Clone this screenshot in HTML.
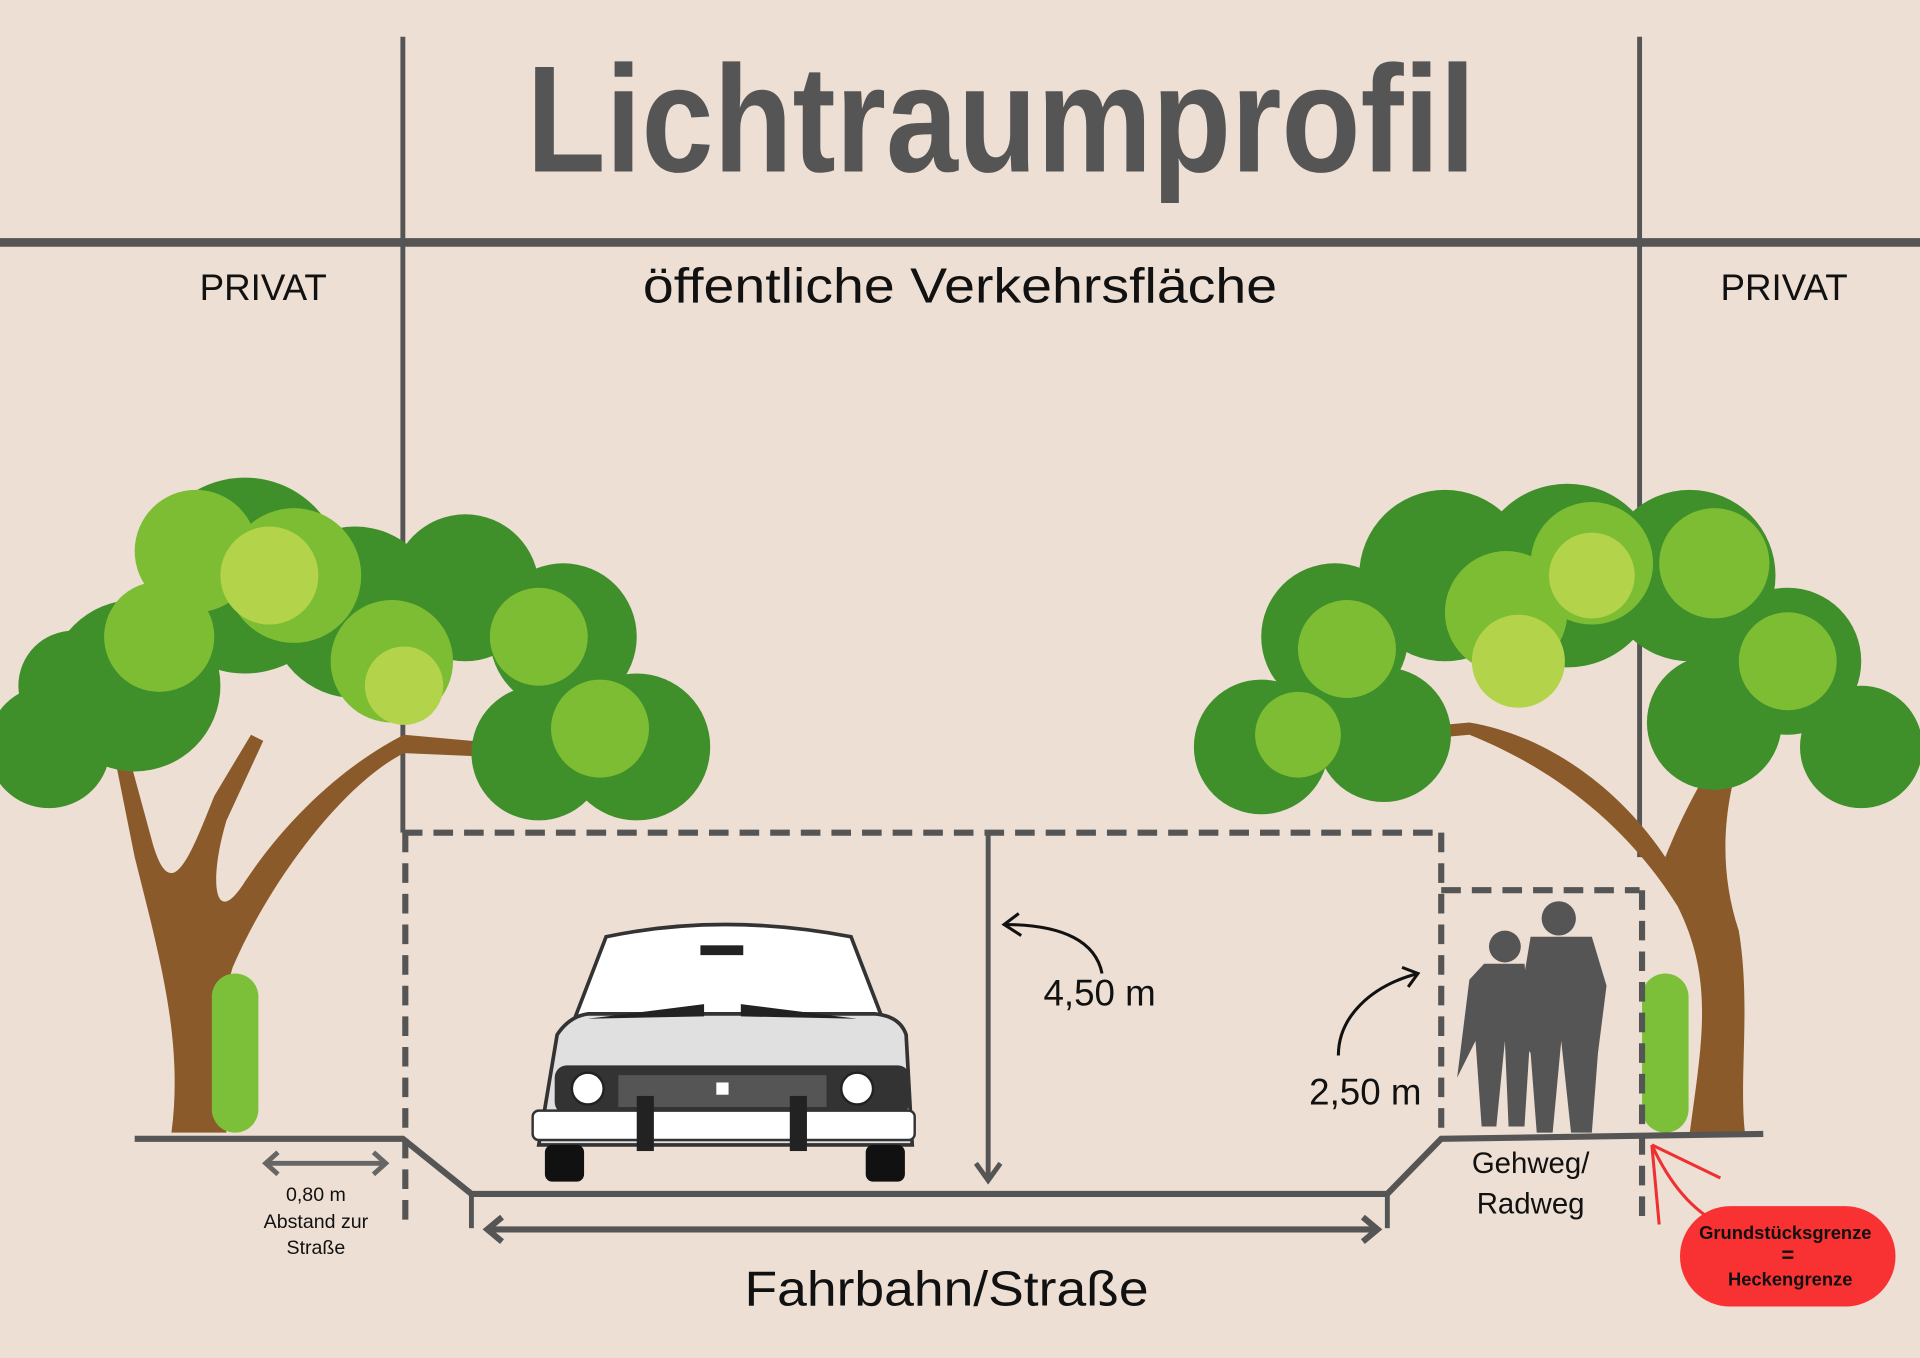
<!DOCTYPE html>
<html><head><meta charset="utf-8"><style>
html,body{margin:0;padding:0;background:#eddfd3;}
svg{display:block}
text{font-family:"Liberation Sans",sans-serif;}
</style></head><body>
<svg width="1920" height="1358" viewBox="0 0 1568 1109" xmlns="http://www.w3.org/2000/svg">
<rect width="1568" height="1109" fill="#eddfd3"/>
<text x="430" y="140" font-size="124" font-weight="bold" fill="#555" textLength="775" lengthAdjust="spacingAndGlyphs">Lichtraumprofil</text>
<line x1="0" y1="198" x2="1568" y2="198" stroke="#555" stroke-width="7"/>
<line x1="329" y1="30" x2="329" y2="680" stroke="#555" stroke-width="4"/>
<line x1="1339" y1="30" x2="1339" y2="700" stroke="#555" stroke-width="4"/>
<text x="215" y="245" text-anchor="middle" font-size="30" fill="#111">PRIVAT</text>
<text x="525" y="247" font-size="40" fill="#111" textLength="518" lengthAdjust="spacingAndGlyphs">öffentliche Verkehrsfläche</text>
<text x="1457" y="245" text-anchor="middle" font-size="30" fill="#111">PRIVAT</text>

<g>
<path d="M140 925 C150 850 130 780 110 700 L90 600 L100 598 L125 690 C140 740 155 700 175 650 L205 600 L215 605 L185 670 C170 720 175 760 200 720 C240 660 290 620 330 600 L440 610 L445 620 L330 615 C280 640 220 720 190 790 C175 840 180 890 185 925 Z" fill="#8b5a2b"/>
<g fill="#3f8f2a">
<circle cx="40" cy="610" r="50"/><circle cx="110" cy="560" r="70"/><circle cx="200" cy="470" r="80"/><circle cx="290" cy="500" r="70"/><circle cx="380" cy="480" r="60"/><circle cx="460" cy="520" r="60"/><circle cx="520" cy="610" r="60"/><circle cx="440" cy="615" r="55"/><circle cx="60" cy="560" r="45"/>
</g>
<g fill="#7dbd34">
<circle cx="160" cy="450" r="50"/><circle cx="240" cy="470" r="55"/><circle cx="130" cy="520" r="45"/><circle cx="320" cy="540" r="50"/><circle cx="440" cy="520" r="40"/><circle cx="490" cy="595" r="40"/>
</g>
<g fill="#b3d44a"><circle cx="220" cy="470" r="40"/><circle cx="330" cy="560" r="32"/></g>
<rect x="173" y="795" width="38" height="130" rx="19" fill="#7cc03a"/>
</g>
<g>
<path d="M1380 925 C1390 850 1400 800 1370 740 C1320 660 1250 620 1200 600 L1090 610 L1090 600 L1200 590 C1260 600 1320 640 1360 700 C1380 650 1400 620 1420 590 L1430 595 C1410 640 1400 700 1420 760 C1430 820 1420 880 1425 925 Z" fill="#8b5a2b"/>
<g fill="#3f8f2a">
<circle cx="1030" cy="610" r="55"/><circle cx="1090" cy="520" r="60"/><circle cx="1180" cy="470" r="70"/><circle cx="1280" cy="470" r="75"/><circle cx="1380" cy="470" r="70"/><circle cx="1460" cy="540" r="60"/><circle cx="1520" cy="610" r="50"/><circle cx="1130" cy="600" r="55"/><circle cx="1400" cy="590" r="55"/>
</g>
<g fill="#7dbd34">
<circle cx="1100" cy="530" r="40"/><circle cx="1230" cy="500" r="50"/><circle cx="1300" cy="460" r="50"/><circle cx="1400" cy="460" r="45"/><circle cx="1060" cy="600" r="35"/><circle cx="1460" cy="540" r="40"/>
</g>
<g fill="#b3d44a"><circle cx="1240" cy="540" r="38"/><circle cx="1300" cy="470" r="35"/></g>
<rect x="1341" y="795" width="38" height="130" rx="19" fill="#7cc03a"/>
</g>

<g stroke="#555" stroke-width="5" stroke-dasharray="16 9" fill="none">
<line x1="329" y1="680" x2="1177" y2="680"/>
<line x1="331" y1="680" x2="331" y2="998"/>
<line x1="1177" y1="680" x2="1177" y2="930"/>
<line x1="1177" y1="727" x2="1339" y2="727"/>
<line x1="1341" y1="727" x2="1341" y2="1000"/>
</g>
<polyline points="110,930 329,930 385,975 1133,975 1177,930 1440,926" fill="none" stroke="#555" stroke-width="5"/>
<line x1="385" y1="975" x2="385" y2="1003" stroke="#555" stroke-width="4"/>
<line x1="1133" y1="975" x2="1133" y2="1003" stroke="#555" stroke-width="4"/>
<line x1="807" y1="680" x2="807" y2="962" stroke="#555" stroke-width="4"/>
<polyline points="797,950 807,964 817,950" fill="none" stroke="#555" stroke-width="4"/>
<line x1="398" y1="1004" x2="1125" y2="1004" stroke="#555" stroke-width="5"/>
<polyline points="410,994 398,1004 410,1014" fill="none" stroke="#555" stroke-width="5"/>
<polyline points="1113,994 1125,1004 1113,1014" fill="none" stroke="#555" stroke-width="5"/>
<line x1="217" y1="950" x2="315" y2="950" stroke="#666" stroke-width="4"/>
<polyline points="227,941 217,950 227,959" fill="none" stroke="#666" stroke-width="4"/>
<polyline points="305,941 315,950 305,959" fill="none" stroke="#666" stroke-width="4"/>

<path d="M900 795 C895 770 870 755 820 755" fill="none" stroke="#111" stroke-width="2.5"/>
<polyline points="832,746 820,755 834,764" fill="none" stroke="#111" stroke-width="2.5"/>
<path d="M1093 862 C1093 830 1120 805 1158 795" fill="none" stroke="#111" stroke-width="2.5"/>
<polyline points="1145,790 1158,795 1150,806" fill="none" stroke="#111" stroke-width="2.5"/>

<g>
<path d="M470 830 L495 765 Q590 745 695 765 L720 830 Z" fill="#fff" stroke="#333" stroke-width="3"/>
<path d="M455 845 Q465 830 480 828 L715 828 Q735 830 740 845 L745 935 L440 935 Z" fill="#e0e0e0" stroke="#333" stroke-width="3"/>
<rect x="572" y="772" width="35" height="8" fill="#222"/>
<path d="M480 832 L575 820 L575 830 Z M605 820 L700 832 L605 830 Z" fill="#222"/>
<rect x="453" y="870" width="290" height="40" rx="10" fill="#333"/>
<circle cx="480" cy="889" r="13" fill="#fff" stroke="#222" stroke-width="2"/>
<circle cx="700" cy="889" r="13" fill="#fff" stroke="#222" stroke-width="2"/>
<rect x="505" y="878" width="170" height="26" fill="#555"/>
<rect x="585" y="884" width="10" height="10" fill="#fff"/>
<rect x="445" y="935" width="32" height="30" rx="6" fill="#111"/>
<rect x="707" y="935" width="32" height="30" rx="6" fill="#111"/>
<rect x="435" y="907" width="312" height="24" rx="5" fill="#fff" stroke="#333" stroke-width="2"/>
<rect x="520" y="895" width="14" height="45" fill="#222"/>
<rect x="645" y="895" width="14" height="45" fill="#222"/>
</g>

<g fill="#555">
<circle cx="1229" cy="773" r="13"/>
<path d="M1212 787 L1245 787 L1250 840 L1245 920 L1232 920 L1229 850 L1222 920 L1210 920 L1205 850 L1190 880 L1200 800 Z"/>
<circle cx="1273" cy="750" r="14"/>
<path d="M1250 765 L1300 765 L1312 805 L1305 860 L1300 925 L1283 925 L1275 850 L1268 925 L1255 925 L1250 860 L1243 850 L1245 795 Z"/>
</g>

<text x="898" y="821" text-anchor="middle" font-size="30" fill="#111">4,50 m</text>
<text x="1115" y="902" text-anchor="middle" font-size="30" fill="#111">2,50 m</text>
<text x="1250" y="958" text-anchor="middle" font-size="24" fill="#111">Gehweg/</text>
<text x="1250" y="991" text-anchor="middle" font-size="24" fill="#111">Radweg</text>
<text x="608" y="1066" font-size="40" fill="#111" textLength="330" lengthAdjust="spacingAndGlyphs">Fahrbahn/Straße</text>
<text x="258" y="981" text-anchor="middle" font-size="16" fill="#111">0,80 m</text>
<text x="258" y="1003" text-anchor="middle" font-size="16" fill="#111">Abstand zur</text>
<text x="258" y="1024" text-anchor="middle" font-size="16" fill="#111">Straße</text>

<path d="M1349 935 L1355 1000 M1349 935 L1405 962 M1349 935 C1365 970 1385 990 1405 1000" fill="none" stroke="#f03030" stroke-width="2.5"/>
<rect x="1372" y="985" width="176" height="82" rx="41" fill="#f83232"/>
<text x="1458" y="1012" text-anchor="middle" font-size="15" font-weight="bold" fill="#111">Grundstücksgrenze</text>
<text x="1460" y="1031" text-anchor="middle" font-size="18" font-weight="bold" fill="#111">=</text>
<text x="1462" y="1050" text-anchor="middle" font-size="15" font-weight="bold" fill="#111">Heckengrenze</text>
</svg>
</body></html>
